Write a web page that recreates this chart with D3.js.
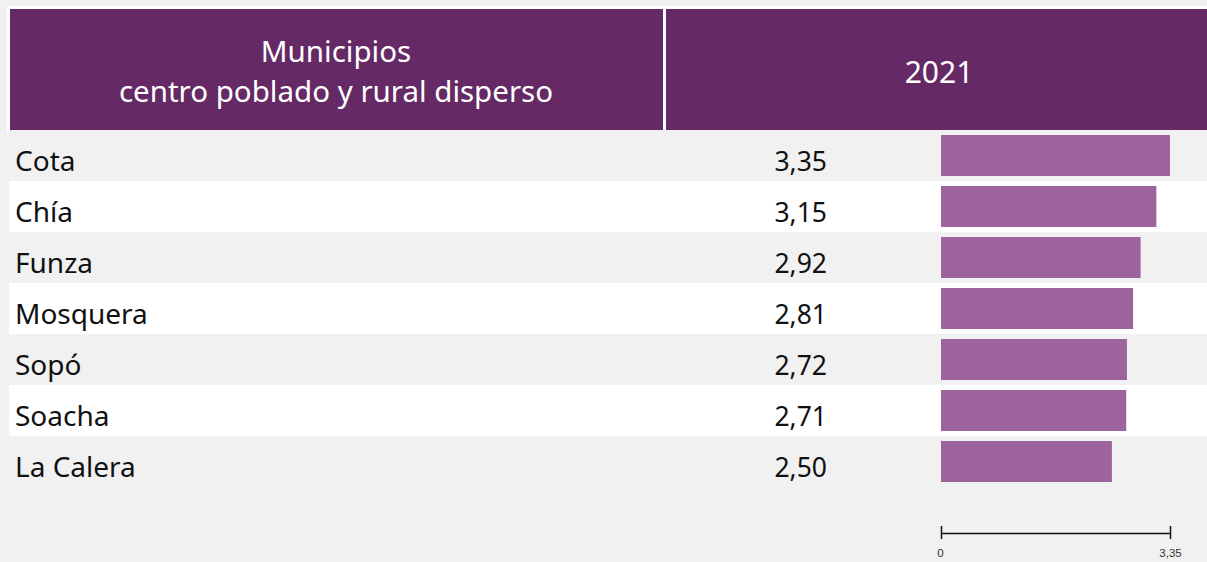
<!DOCTYPE html>
<html>
<head>
<meta charset="utf-8">
<script src="https://cdn.jsdelivr.net/npm/d3@7"></script>
<style>
  body { margin: 0; background: #f1f1f1; }
  svg { display: block; font-family: "Noto Sans", "Open Sans", sans-serif; }
</style>
</head>
<body>
<div id="chart"></div>
<script>
var municipios = ["Cota", "Chía", "Funza", "Mosquera", "Sopó", "Soacha", "La Calera"];
var valores = [3.35, 3.15, 2.92, 2.81, 2.72, 2.71, 2.50];
var encabezado = ["Municipios", "centro poblado y rural disperso"];
var anio = "2021";
var ejeTicks = [0, 3.35];

var width = 1207, height = 562;
var svg = d3.select("#chart").append("svg").attr("width", width).attr("height", height);

var esFormat = d3.formatLocale({decimal: ",", thousands: ".", grouping: [3], currency: ["$", ""]}).format(".2f");
var tickFormat = function (d) { return d === 0 ? "0" : esFormat(d); };

// header
svg.append("rect").attr("x", 7).attr("y", 6).attr("width", width - 7).attr("height", 127).attr("fill", "#fff");
svg.append("rect").attr("x", 10).attr("y", 9).attr("width", 653).attr("height", 121).attr("fill", "#652966");
svg.append("rect").attr("x", 666).attr("y", 9).attr("width", width - 666).attr("height", 121).attr("fill", "#652966");

svg.append("text")
  .attr("x", 336).attr("y", 0)
  .attr("text-anchor", "middle")
  .attr("fill", "#fff")
  .style("font-size", "29.5px")
  .selectAll("tspan")
  .data(encabezado)
  .enter().append("tspan")
  .attr("x", 336)
  .attr("y", function (d, i) { return 62 + i * 40; })
  .text(function (d) { return d; });

svg.append("text")
  .attr("x", 939).attr("y", 83)
  .attr("text-anchor", "middle")
  .attr("fill", "#fff")
  .style("font-size", "30px")
  .text(anio);

// rows
var rowY = d3.scaleBand()
  .domain(municipios)
  .range([130, 130 + 51 * municipios.length]);

var x = d3.scaleLinear()
  .domain([0, d3.max(ejeTicks)])
  .range([941, 1170]);

var rows = svg.selectAll(".fila")
  .data(municipios)
  .enter().append("g")
  .attr("class", "fila");

rows.append("rect")
  .attr("x", 9)
  .attr("y", function (d) { return rowY(d); })
  .attr("width", width - 9)
  .attr("height", rowY.bandwidth())
  .attr("fill", function (d, i) { return i % 2 === 1 ? "#fff" : "#f1f1f1"; });

rows.append("text")
  .attr("x", 15)
  .attr("y", function (d) { return rowY(d) + 41; })
  .attr("fill", "#111")
  .style("font-size", "28px")
  .text(function (d) { return d; });

rows.append("text")
  .attr("x", 827)
  .attr("y", function (d) { return rowY(d) + 41; })
  .attr("text-anchor", "end")
  .attr("fill", "#111")
  .style("font-size", "26.5px")
  .text(function (d, i) { return esFormat(valores[i]); });

rows.append("rect")
  .attr("x", x(0))
  .attr("y", function (d) { return rowY(d) + 5; })
  .attr("width", function (d, i) { return x(valores[i]) - x(0); })
  .attr("height", rowY.bandwidth() - 10)
  .attr("fill", "#9d639d");

// axis
var axis = svg.append("g")
  .attr("transform", "translate(0,533)")
  .call(d3.axisBottom(x).tickValues(ejeTicks).tickFormat(tickFormat).tickSizeOuter(0));

axis.select(".domain").attr("stroke", "#111").attr("stroke-width", 1.5);
axis.selectAll(".tick line").attr("stroke", "#111").attr("stroke-width", 1.5).attr("y1", -7).attr("y2", 6);
axis.selectAll(".tick text").attr("fill", "#333").style("font-size", "11.5px").attr("y", 16).attr("dy", "0.71em");
axis.selectAll(".tick").filter(function (d) { return d === 0; }).select("text").attr("dx", "-1");
</script>
</body>
</html>
